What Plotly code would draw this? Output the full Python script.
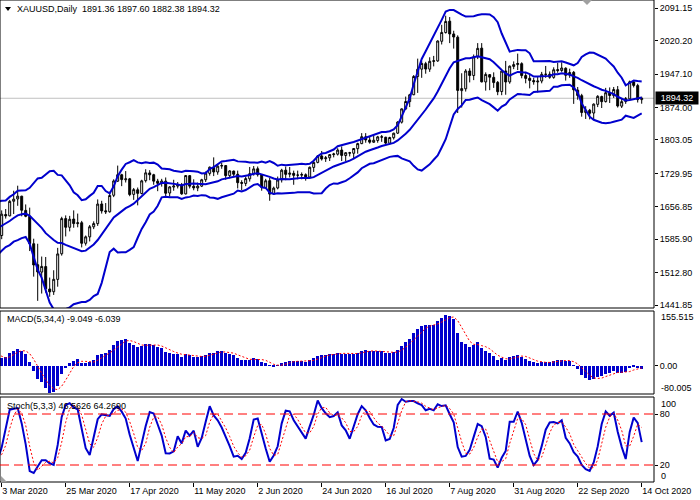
import plotly.graph_objects as go
import pandas as pd

# daily XAUUSD bars, 3 Feb 2020 .. 14 Oct 2020 (the first 21 February bars only feed the indicators)
warmup_bars = 21

open_prices = [
    1589, 1576, 1553, 1556, 1566, 1570, 1572, 1566, 1565, 1576,
    1584, 1581, 1601, 1611, 1620, 1648, 1659, 1635, 1642, 1642, 1586,
    1594, 1640, 1637, 1669, 1674, 1680, 1649, 1636, 1576, 1530,
    1514, 1526, 1477, 1471, 1498, 1554, 1631, 1612, 1630, 1620,
    1622, 1577, 1591, 1613, 1620, 1663, 1648, 1646, 1682, 1713,
    1727, 1716, 1718, 1684, 1694, 1686, 1714, 1731, 1727, 1713,
    1708, 1713, 1687, 1700, 1702, 1705, 1685, 1725, 1702, 1698,
    1702, 1716, 1730, 1743, 1733, 1746, 1747, 1725, 1735, 1728,
    1710, 1708, 1718, 1729, 1740, 1727, 1699, 1714, 1685, 1698,
    1716, 1737, 1728, 1730, 1726, 1726, 1727, 1722, 1743, 1754,
    1768, 1762, 1764, 1771, 1772, 1781, 1769, 1775, 1774, 1784,
    1795, 1810, 1803, 1798, 1802, 1810, 1809, 1796, 1808, 1818,
    1842, 1871, 1887, 1902, 1942, 1958, 1970, 1958, 1975, 1976,
    2019, 2038, 2063, 2035, 2028, 1911, 1915, 1954, 1944, 1985,
    2004, 1930, 1946, 1940, 1929, 1909, 1954, 1930, 1964, 1968,
    1970, 1944, 1938, 1933, 1930, 1932, 1947, 1947, 1940, 1957,
    1955, 1960, 1945, 1951, 1912, 1900, 1863, 1868, 1862, 1881,
    1898, 1887, 1906, 1900, 1913, 1877, 1887, 1893, 1930, 1922,
    1891.36,
]

high_prices = [
    1592, 1578, 1562, 1569, 1574, 1576, 1573, 1570, 1578, 1586,
    1586, 1604, 1613, 1623, 1649, 1689, 1661, 1651, 1660, 1645, 1610,
    1649, 1652, 1672, 1692, 1703, 1681, 1662, 1655, 1587, 1576,
    1548, 1547, 1502, 1518, 1567, 1635, 1638, 1637, 1649, 1642,
    1626, 1594, 1617, 1625, 1673, 1670, 1665, 1690, 1717, 1747,
    1729, 1735, 1720, 1698, 1699, 1716, 1739, 1737, 1729, 1718,
    1718, 1721, 1702, 1716, 1711, 1709, 1726, 1726, 1717, 1710,
    1718, 1734, 1745, 1765, 1749, 1753, 1748, 1737, 1736, 1736,
    1715, 1723, 1744, 1746, 1745, 1728, 1718, 1720, 1701, 1723,
    1740, 1745, 1744, 1736, 1736, 1732, 1730, 1745, 1756, 1770,
    1779, 1768, 1772, 1775, 1785, 1789, 1776, 1777, 1785, 1797,
    1818, 1818, 1810, 1815, 1812, 1814, 1810, 1810, 1819, 1844,
    1872, 1898, 1904, 1945, 1981, 1976, 1974, 1984, 1987, 2021,
    2055, 2075, 2072, 2042, 2032, 1949, 1958, 1960, 1990, 2015,
    2015, 1951, 1947, 1951, 1932, 1956, 1976, 1966, 1975, 1992,
    1973, 1952, 1946, 1939, 1943, 1952, 1965, 1953, 1962, 1972,
    1973, 1962, 1959, 1954, 1919, 1904, 1877, 1871, 1883, 1901,
    1900, 1917, 1918, 1919, 1921, 1893, 1897, 1933, 1933, 1926,
    1897.60,
]

low_prices = [
    1570, 1548, 1547, 1553, 1561, 1568, 1562, 1561, 1563, 1571,
    1578, 1578, 1599, 1604, 1618, 1644, 1625, 1630, 1637, 1563, 1575,
    1586, 1631, 1636, 1641, 1659, 1636, 1634, 1560, 1504, 1451,
    1467, 1469, 1460, 1464, 1482, 1550, 1592, 1603, 1611, 1612,
    1568, 1572, 1581, 1608, 1615, 1642, 1641, 1644, 1678, 1711,
    1702, 1710, 1680, 1672, 1660, 1684, 1710, 1715, 1705, 1691,
    1701, 1678, 1679, 1692, 1697, 1683, 1684, 1697, 1693, 1691,
    1700, 1711, 1725, 1724, 1727, 1740, 1716, 1719, 1722, 1697,
    1693, 1702, 1712, 1725, 1723, 1692, 1697, 1670, 1683, 1695,
    1710, 1715, 1721, 1705, 1717, 1717, 1714, 1720, 1733, 1752,
    1758, 1755, 1757, 1765, 1769, 1757, 1757, 1767, 1763, 1773,
    1794, 1797, 1795, 1797, 1797, 1799, 1792, 1793, 1804, 1816,
    1839, 1869, 1875, 1901, 1906, 1939, 1948, 1952, 1964, 1974,
    2012, 2036, 2015, 2003, 1862, 1874, 1909, 1929, 1934, 1980,
    1929, 1911, 1912, 1917, 1901, 1901, 1902, 1926, 1958, 1956,
    1938, 1927, 1916, 1924, 1907, 1927, 1939, 1937, 1937, 1950,
    1952, 1933, 1939, 1882, 1891, 1854, 1849, 1848, 1848, 1875,
    1873, 1885, 1884, 1895, 1874, 1873, 1882, 1891, 1918, 1885,
    1882.38,
]

close_prices = [
    1576.7, 1553.5, 1556.0, 1566.1, 1570.3, 1572.3, 1566.5, 1565.3, 1575.8, 1584.0,
    1581.3, 1601.1, 1611.6, 1619.7, 1643.4, 1658.9, 1635.0, 1642.6, 1641.6, 1585.3, 1593.8,
    1640.7, 1636.9, 1668.8, 1673.6, 1680.1, 1649.2, 1636.0, 1576.2, 1529.6, 1514.1,
    1526.4, 1477.4, 1470.7, 1498.2, 1553.7, 1631.0, 1612.0, 1629.6, 1620.1, 1621.8,
    1577.0, 1591.1, 1613.2, 1620.1, 1662.8, 1647.8, 1645.9, 1681.5, 1713.4, 1727.1,
    1716.3, 1717.9, 1683.6, 1694.4, 1686.2, 1713.6, 1731.1, 1726.9, 1713.0, 1708.2,
    1713.2, 1686.5, 1700.4, 1702.3, 1705.1, 1685.2, 1725.2, 1702.0, 1698.2, 1702.1,
    1716.0, 1730.5, 1743.5, 1733.0, 1745.7, 1747.0, 1725.0, 1735.3, 1728.0, 1709.6,
    1708.3, 1718.5, 1729.3, 1739.8, 1727.1, 1699.4, 1713.8, 1684.6, 1697.7, 1715.5,
    1736.9, 1727.8, 1730.4, 1725.6, 1726.1, 1727.4, 1722.2, 1743.3, 1754.0, 1768.0,
    1761.5, 1764.0, 1771.1, 1772.4, 1780.9, 1769.3, 1775.2, 1774.4, 1784.4, 1795.1,
    1810.2, 1803.1, 1798.3, 1802.5, 1809.8, 1809.3, 1796.2, 1808.4, 1817.8, 1842.3,
    1871.1, 1887.2, 1902.0, 1942.0, 1957.9, 1970.6, 1958.2, 1975.2, 1976.3, 2019.6,
    2038.3, 2062.4, 2035.0, 2028.3, 1911.5, 1915.5, 1953.9, 1944.2, 1985.1, 2003.5,
    1930.2, 1946.5, 1940.4, 1928.6, 1908.6, 1953.7, 1929.9, 1964.5, 1968.0, 1970.4,
    1943.9, 1937.8, 1933.3, 1930.4, 1931.8, 1946.7, 1946.6, 1940.3, 1956.7, 1954.9,
    1960.5, 1944.6, 1950.6, 1912.7, 1900.3, 1863.2, 1868.1, 1861.6, 1881.5, 1898.5,
    1886.9, 1906.4, 1900.3, 1913.4, 1877.4, 1886.9, 1893.6, 1930.4, 1922.4, 1891.4,
    1894.32,
]

date_labels = ["3 Mar 2020", "25 Mar 2020", "17 Apr 2020", "11 May 2020", "2 Jun 2020",
               "24 Jun 2020", "16 Jul 2020", "7 Aug 2020", "31 Aug 2020", "22 Sep 2020",
               "14 Oct 2020"]
price_ticks = [2091.15, 2020.20, 1947.10, 1874.00, 1803.05, 1729.95, 1656.85, 1585.90, 1512.80, 1441.85]
last_price = 1894.32
macd_max, macd_min = 155.515, -80.005

header = "XAUUSD,Daily\u00a0\u00a01891.36 1897.60 1882.38 1894.32"
macd_title = "MACD(5,34,4) -9.049 -6.039"
stoch_title = "Stoch(5,3,3) 46.5626 64.2690"

# ---- indicators (computed like the terminal does) ----
df = pd.DataFrame({'o': open_prices, 'h': high_prices, 'l': low_prices, 'c': close_prices})
bars = list(range(len(df)))

bb_period = 14
mid = df['c'].rolling(bb_period).mean()
dev = df['c'].rolling(bb_period).std(ddof=0)
bb_up = mid + 2 * dev
bb_dn = mid - 2 * dev

macd = df['c'].ewm(span=5, adjust=False).mean() - df['c'].ewm(span=34, adjust=False).mean()
macd_sig = macd.rolling(4).mean()

ll = df['l'].rolling(5).min()
hh = df['h'].rolling(5).max()
st_k = (df['c'] - ll).rolling(3).sum() / (hh - ll).rolling(3).sum() * 100
st_d = st_k.rolling(3).mean()

# ---- pixel helpers (plot area 654 x 482) ----
PW, PH = 654, 482


def px_x(x):
    return x / PW


def px_y(y):
    return (PH - y) / PH


BLUE = '#0000CD'
FONT = 'Liberation Sans, Arial, sans-serif'
FS = 9

fig = go.Figure()

fig.add_trace(go.Candlestick(
    x=bars, open=df['o'], high=df['h'], low=df['l'], close=df['c'],
    increasing=dict(line=dict(color='black', width=1), fillcolor='white'),
    decreasing=dict(line=dict(color='black', width=1), fillcolor='black'),
    whiskerwidth=0, hoverinfo='skip', xaxis='x', yaxis='y'))

for band in (bb_up, mid, bb_dn):
    fig.add_trace(go.Scatter(x=bars, y=band, mode='lines', line=dict(color=BLUE, width=2),
                             hoverinfo='skip', xaxis='x', yaxis='y'))

fig.add_trace(go.Bar(x=bars, y=macd, marker=dict(color=BLUE, line=dict(width=0)), width=0.75,
                     hoverinfo='skip', xaxis='x', yaxis='y2'))
fig.add_trace(go.Scatter(x=bars, y=macd_sig, mode='lines', line=dict(color='red', width=1, dash='2px,2px'),
                         hoverinfo='skip', xaxis='x', yaxis='y2'))

fig.add_trace(go.Scatter(x=bars, y=st_k, mode='lines', line=dict(color=BLUE, width=2),
                         hoverinfo='skip', xaxis='x', yaxis='y3'))
fig.add_trace(go.Scatter(x=bars, y=st_d, mode='lines', line=dict(color='red', width=1, dash='2px,2px'),
                         hoverinfo='skip', xaxis='x', yaxis='y3'))

x0 = warmup_bars - 1.7 / 4
x1 = x0 + PW / 4
tick_font = dict(family=FONT, size=FS, color='black')
axis_common = dict(side='right', anchor='x', showgrid=False, zeroline=False, showline=False,
                   ticks='outside', ticklen=3, tickcolor='black', tickfont=tick_font, fixedrange=True)

shapes = [
    # panel frames
    dict(type='rect', xref='paper', yref='paper', x0=0, x1=1, y0=px_y(308), y1=px_y(0),
         line=dict(color='black', width=1)),
    dict(type='rect', xref='paper', yref='paper', x0=0, x1=1, y0=px_y(394), y1=px_y(311),
         line=dict(color='black', width=1)),
    dict(type='rect', xref='paper', yref='paper', x0=0, x1=1, y0=px_y(482), y1=px_y(397),
         line=dict(color='black', width=1)),
    # last price line
    dict(type='line', xref='paper', yref='y', x0=0, x1=1, y0=last_price, y1=last_price,
         line=dict(color='#C0C0C0', width=1), layer='below'),
    # stochastic levels
    dict(type='line', xref='paper', yref='y3', x0=0, x1=1, y0=80, y1=80,
         line=dict(color='red', width=1, dash='9px,5px')),
    dict(type='line', xref='paper', yref='y3', x0=0, x1=1, y0=20, y1=20,
         line=dict(color='red', width=1, dash='9px,5px')),
    # header triangle and chart-shift markers
    dict(type='path', xref='paper', yref='paper', fillcolor='black', line=dict(width=0),
         path=f"M {px_x(5)} {px_y(7)} L {px_x(11)} {px_y(7)} L {px_x(8)} {px_y(11)} Z"),
    dict(type='path', xref='paper', yref='paper', fillcolor='#A0A0A0', line=dict(width=0),
         path=f"M {px_x(582)} {px_y(0)} L {px_x(592)} {px_y(0)} L {px_x(587)} {px_y(5)} Z"),
    dict(type='path', xref='paper', yref='paper', fillcolor='#A0A0A0', line=dict(width=0),
         path=f"M {px_x(1)} {px_y(476)} L {px_x(1)} {px_y(482)} L {px_x(7)} {px_y(482)} Z"),
]


def label(text, x, y, **kw):
    return dict(text=text, xref='paper', yref='paper', x=px_x(x), y=px_y(y), showarrow=False,
                xanchor='left', yanchor='middle', font=dict(family=FONT, size=FS, color='black'), **kw)


annotations = [
    label(header, 15, 8.5),
    label(macd_title, 5, 319),
    label(stoch_title, 5, 406),
    label(f"{macd_max:.3f}", 659, 317),
    label(f"{macd_min:.3f}", 659, 388),
    label("100", 659, 404),
    label("0", 659, 476),
    dict(text=f"{last_price:.2f}", xref='paper', yref='y', x=px_x(655), y=last_price, showarrow=False,
         xanchor='left', yanchor='middle', bgcolor='black', borderpad=1, width=40,
         font=dict(family=FONT, size=FS, color='white')),
]

fig.update_layout(
    width=700, height=500,
    margin=dict(l=0, r=700 - PW, t=0, b=500 - PH),
    paper_bgcolor='white', plot_bgcolor='white',
    showlegend=False, bargap=0,
    xaxis=dict(domain=[0, 1], anchor='y3', range=[x0, x1],
               tickvals=[warmup_bars + 16 * k for k in range(len(date_labels))], ticktext=date_labels,
               ticks='outside', ticklen=4, tickcolor='black', ticklabelposition='outside right',
               tickfont=tick_font, showgrid=False, zeroline=False, showline=False,
               rangeslider=dict(visible=False), fixedrange=True),
    yaxis=dict(domain=[px_y(308), 1], range=[1435.4, 2109.3],
               tickvals=price_ticks, ticktext=[f"{v:.2f}" for v in price_ticks], **axis_common),
    yaxis2=dict(domain=[px_y(394), px_y(311)], range=[macd_min, macd_max],
                tickvals=[0], ticktext=['0.00'], **axis_common),
    yaxis3=dict(domain=[0, px_y(397)], range=[0, 100],
                tickvals=[20, 80], ticktext=['20', '80'], **axis_common),
    shapes=shapes,
    annotations=annotations,
)

# the page body has a default 8px margin; drop it so the chart sits at the window corner
fig.write_html("out.html", config=dict(displayModeBar=False),
               post_script="document.body.style.margin='0px';")
